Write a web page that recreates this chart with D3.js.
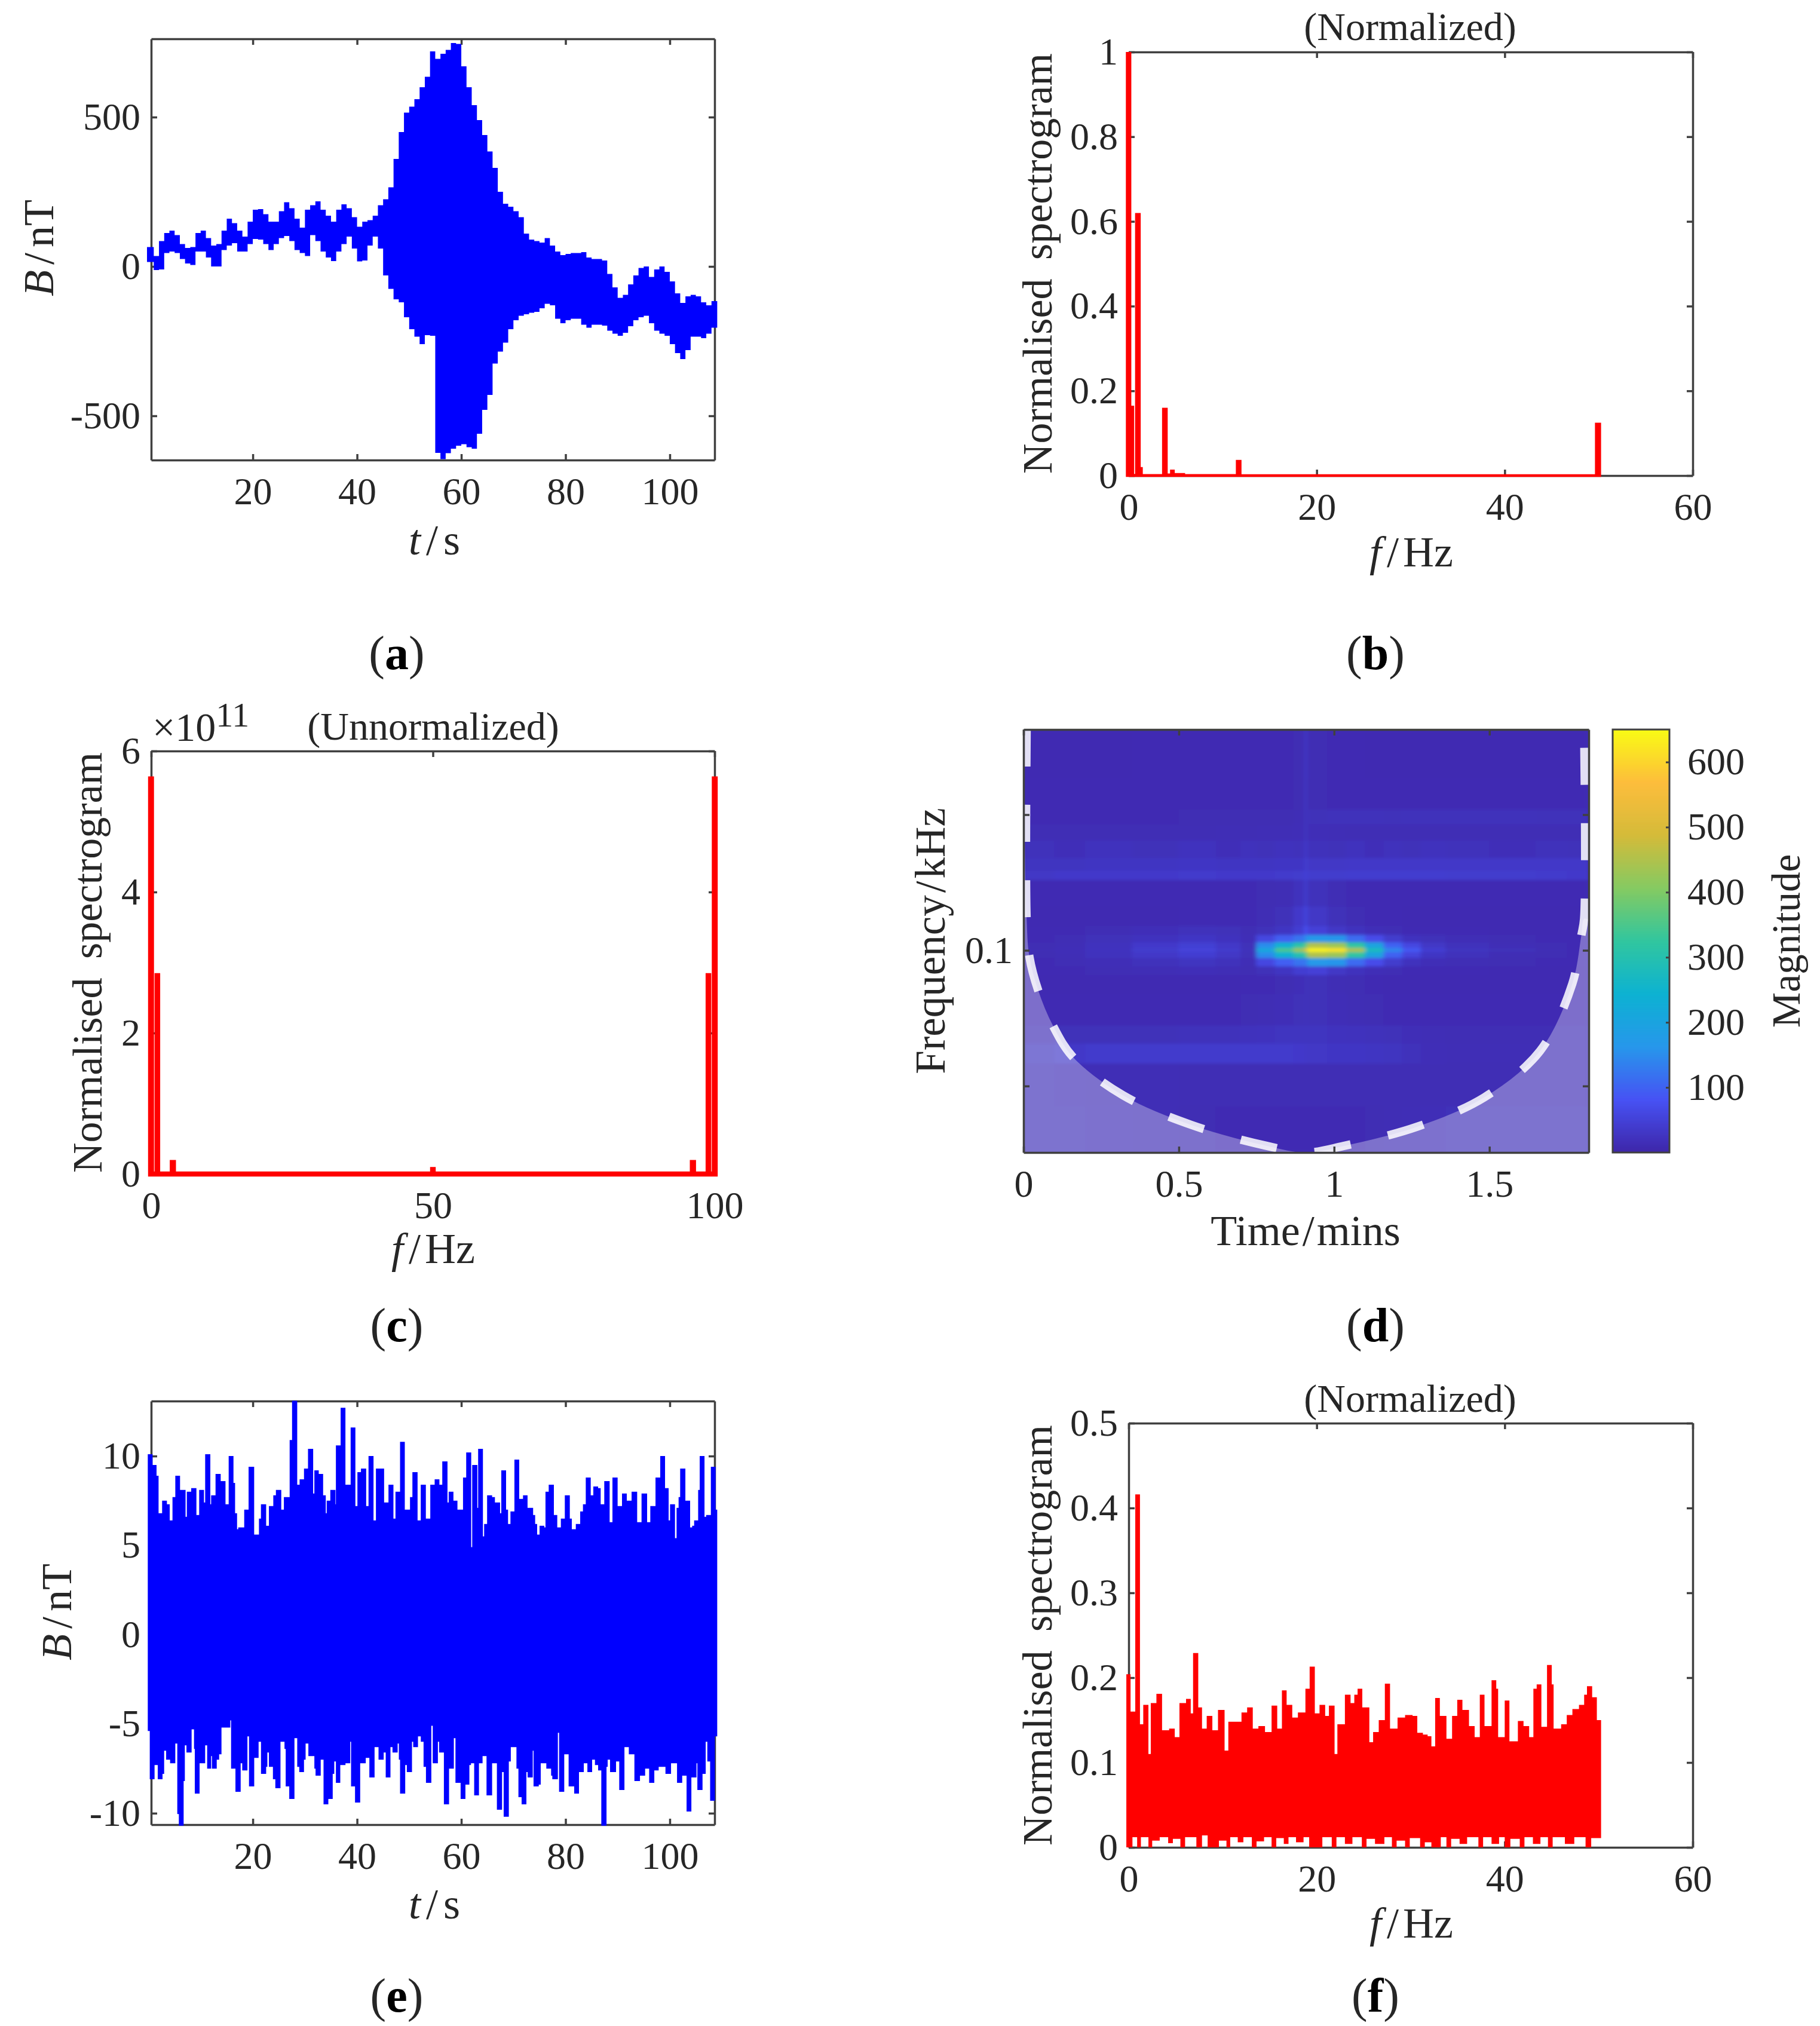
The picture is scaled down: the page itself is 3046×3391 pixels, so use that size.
<!DOCTYPE html>
<html>
<head>
<meta charset="utf-8">
<script src="https://cdn.jsdelivr.net/npm/d3@7"></script>
<style>
  html, body { margin: 0; padding: 0; background: #fff; }
  svg text { font-family: "Liberation Serif", serif; fill: #262626; }
</style>
</head>
<body>
<div id="chart"></div>
<script>
var rawUpperValues = [65,35,85,112,120,105,75,62,65,112,120,95,70,75,120,160,145,120,100,150,190,192,175,150,150,185,215,195,160,130,190,205,218,190,170,150,190,208,195,165,133,150,155,170,205,225,265,360,450,515,535,560,600,635,720,695,712,725,748,745,670,600,540,490,440,385,330,250,210,200,185,165,110,90,85,80,95,70,50,38,42,45,45,48,30,25,25,20,-25,-70,-105,-95,-60,-30,-5,0,-35,-10,0,-18,-50,-90,-122,-100,-95,-100,-120,-130,-116];
var rawLowerValues = [15,-12,-10,45,50,45,25,10,5,50,50,30,0,0,55,70,78,50,50,75,92,90,75,55,75,95,102,85,55,45,35,105,85,50,30,18,50,75,100,60,17,20,70,100,60,-30,-75,-110,-120,-170,-210,-235,-260,-230,-232,-624,-645,-625,-610,-600,-595,-605,-610,-560,-480,-430,-325,-285,-255,-210,-180,-165,-160,-155,-152,-140,-125,-130,-175,-190,-180,-175,-175,-195,-205,-195,-195,-198,-215,-225,-232,-222,-200,-180,-170,-165,-190,-215,-225,-232,-260,-290,-310,-280,-235,-235,-240,-225,-205];

// (b) normalized spectrum, [f in Hz, value], each value holds until the next
var normSpectrum = [[-0.3,1],[0.28,0.165],[0.58,0.004],[0.68,0.62],[1.28,0.02],[1.5,0.0035],[3.55,0.16],[4.15,0.005],[4.4,0.014],[4.9,0.006],[6,0.0035],[11.4,0.037],[12,0.003],[49.6,0.125],[50.25,0.125]];

// (c) unnormalized two-sided spectrum, [f in Hz, value in 1e11]
var twoSidedSpectrum = [[-0.55,5.64],[0.5,0.035],[0.6,2.85],[1.6,0.035],[3.3,0.2],[4.4,0.035],[49.5,0.1],[50.5,0.035],[95.6,0.2],[96.7,0.035],[98.4,2.85],[99.4,0.035],[99.5,5.64],[100.55,5.64]];

// (d) scalogram: cell edges and magnitudes, top row first
var timeEdges = [0,0.1,0.2,0.35,0.5,0.62,0.7,0.75,0.81,0.87,0.905,0.915,0.98,1.04,1.1,1.16,1.22,1.28,1.36,1.5,1.65,1.75,1.82];
var freqEdges = [0.309,0.24,0.205,0.19,0.175,0.16,0.15,0.143,0.125,0.113,0.108,0.104,0.101,0.099,0.096,0.092,0.088,0.08,0.068,0.062,0.056,0.045,0.0356];
var magnitude = [
  [11,11,11,12,12,12,12,12,12,13,30,13,12,12,11,11,11,11,11,11,11,11],
  [12,12,12,12,12,12,12,12,12,13,28,13,12,12,12,12,12,12,12,12,12,12],
  [12,12,12,12,13,13,13,13,13,15,26,18,20,20,20,19,20,20,20,20,19,19],
  [14,14,14,14,14,15,14,15,15,16,26,16,15,14,14,14,14,14,14,14,14,14],
  [20,17,22,18,23,17,21,18,22,20,36,20,18,22,17,21,18,22,20,17,20,19],
  [26,26,28,28,30,28,28,28,30,30,44,32,32,34,34,34,34,34,34,34,34,34],
  [32,36,36,36,38,36,36,36,38,40,50,40,40,42,42,42,42,42,40,40,38,36],
  [12,12,12,12,12,12,12,13,14,22,42,20,14,12,12,12,12,12,12,12,12,12],
  [11,11,11,11,12,12,12,14,18,36,60,32,18,13,12,12,11,11,11,11,11,11],
  [12,12,14,17,20,18,14,18,28,44,80,50,32,22,16,14,12,12,12,11,11,11],
  [12,14,18,24,30,24,16,60,95,120,150,170,160,110,70,40,24,18,15,13,12,12],
  [13,15,22,36,46,34,18,150,245,310,370,450,430,320,200,100,60,32,20,15,13,12],
  [14,16,24,40,52,38,20,215,350,430,510,640,620,450,280,145,90,44,26,18,14,12],
  [13,15,22,34,44,32,18,150,245,300,350,450,430,320,200,100,56,30,20,14,13,12],
  [12,14,16,20,26,20,15,60,95,120,125,170,160,110,70,40,22,16,14,13,12,12],
  [12,12,14,15,17,15,13,18,28,44,44,50,32,22,16,14,12,12,12,11,11,11],
  [11,11,11,11,11,11,12,12,13,16,20,18,14,13,12,11,11,11,11,11,11,11],
  [12,12,12,12,12,12,13,14,16,18,20,18,16,14,13,12,12,12,12,12,12,12],
  [15,18,18,18,20,20,22,24,26,26,26,26,24,22,20,18,16,15,14,14,14,14],
  [26,34,38,38,38,38,38,38,38,36,34,32,30,30,28,26,20,16,15,15,15,15],
  [18,16,15,15,14,14,14,14,14,14,14,14,14,14,14,14,14,14,14,14,14,14],
  [18,18,16,15,13,12,12,12,12,12,12,12,12,12,13,14,15,16,18,18,18,18]
];
var coiTime = [0.01,0.01,0.019,0.047,0.095,0.16,0.32,0.54,0.785,0.91,1.03,1.267,1.484,1.663,1.767,1.796,1.805,1.805];
var coiFreq = [0.309,0.1175,0.0968,0.0816,0.068,0.0579,0.0477,0.041,0.0368,0.0356,0.0368,0.0406,0.0472,0.0598,0.0843,0.1078,0.1175,0.309];
var parula = ['#3e26a8','#4752f4','#2797eb','#0db2d2','#31c69f','#85ca62','#d4bb3a','#fdbd3c','#f9fb15'];

// (e) residual signal: envelope, [t in s, B in nT]
var resUpper = [[-0.15,10.1],[0.77,9.5],[1.53,8.9],[1.92,6.8],[2.6,7.5],[3.52,7.3],[4.06,6.4],[4.59,7.7],[5.13,8.9],[6.04,8.1],[7.1,6.6],[7.34,8],[8.18,8.2],[9.18,6.7],[9.71,8.1],[10.63,7.4],[10.86,10.1],[11.85,7.3],[12,7.8],[12.85,9],[13.84,8.6],[14.76,7.3],[15.37,10],[16.29,8.5],[16.6,6.8],[16.98,5.9],[17.2,6],[18.35,7],[19.19,9.4],[20.26,5.6],[21.18,6.5],[21.56,7.3],[22.56,6.1],[23.09,7.2],[23.93,7.8],[24.43,8.1],[25.46,7],[25.96,7.7],[27.07,10.9],[27.53,13.1],[28.52,8.4],[28.98,8.7],[29.82,9.3],[30.59,10.4],[31.58,7.9],[31.81,9.2],[32.65,9],[33.49,7.8],[34,6.8],[34.18,7.5],[34.87,8.1],[35.86,7.3],[35.94,10.6],[36.85,12.7],[37.77,8.4],[38.77,11.6],[39.68,7.2],[40.07,9.1],[40.75,9.3],[41.75,7.2],[42.2,10],[43.16,6.4],[43.62,9.3],[44.5,9.3],[45.19,7.4],[46.03,8.4],[46.98,6.5],[47.37,8],[48.25,10.8],[49.16,7],[50.16,7.7],[50.62,9.1],[51.61,6.4],[52.22,8.4],[53.2,6.5],[54.05,8.4],[54.89,8.7],[55.8,8.4],[56.35,9.7],[57.35,7.4],[57.58,8],[58.49,7.5],[59.26,7],[60.33,8.8],[60.94,10.2],[61.9,4.9],[62.09,9.5],[63.08,7.1],[63.23,10.4],[64.15,5.5],[64.38,6.2],[64.95,7.8],[65.91,7.7],[66.45,7.4],[67.44,6.8],[67.67,9.2],[68.59,7],[68.97,6.2],[69.43,6.9],[70.19,9.8],[71.11,7.6],[71.84,7.8],[72.71,7.1],[73.78,6.7],[74.17,6.2],[74.55,5.6],[75.01,6.1],[75.93,6],[76.15,8],[76.77,8.4],[77.76,6.7],[78.41,6],[79.1,6.5],[79.86,7.8],[80.82,6.5],[81.2,5.9],[81.97,6.2],[82.81,6.9],[83.34,7.3],[83.88,8.8],[84.83,7.8],[85.33,8.3],[86.25,8.2],[86.74,7.3],[87.43,8.6],[88.46,6.3],[89,8.8],[89.99,7.2],[90.83,7.9],[91.75,7.5],[92.67,8],[93.74,6.3],[94.58,7.9],[95.65,6.3],[96.26,7.2],[97.26,8.8],[98.17,10],[99.09,8.2],[99.78,6.4],[100.05,7.3],[101,5.4],[101.3,7.1],[101.69,7.7],[101.99,9.3],[102.99,7.5],[103.9,6],[104.29,6.1],[104.67,6.4],[105.44,8.1],[105.74,10],[106.66,6.6],[106.97,6.7],[107.88,9.4],[108.8,7],[109.1,7]];
var resLower = [[-0.15,-5.4],[0.23,-8.1],[1.15,-7.3],[1.76,-8.1],[2.68,-7.8],[2.99,-6.5],[3.37,-7],[4.13,-7.2],[5.13,-6.1],[5.51,-10.05],[5.81,-10.7],[6.73,-8.2],[6.96,-6.2],[7.27,-6.6],[8.26,-5.3],[8.72,-6.4],[8.87,-8.9],[9.79,-7.2],[10.86,-6.2],[11.24,-7.5],[12.01,-6.8],[12.16,-7.5],[13.08,-7],[13.54,-6.7],[13.99,-5.2],[15.68,-4.8],[15.83,-7.5],[16.67,-8.8],[17.67,-7.2],[17.97,-7.6],[18.97,-5.7],[19.27,-8.5],[20.27,-6.9],[21.11,-6],[21.57,-7.8],[22.56,-7.4],[22.79,-6.6],[23.09,-7.4],[23.86,-8.1],[24.32,-8.6],[25.31,-6],[26.08,-6.4],[26.31,-8.5],[26.99,-9.2],[27.99,-5.8],[28.52,-7.4],[28.91,-7.7],[29.82,-7],[30.13,-6.1],[30.66,-6.8],[31.81,-7.5],[32.04,-7.9],[33.03,-7],[33.57,-9.5],[34.49,-9.2],[35.33,-7.8],[35.63,-7.1],[35.94,-8.3],[36.78,-7.3],[37.78,-7.2],[38.69,-6],[38.85,-8.5],[39.61,-9.4],[40.6,-7.2],[41.67,-6.9],[42.36,-8],[43.36,-6.3],[44.12,-7],[45.11,-6.6],[45.5,-8],[46.41,-6.3],[46.8,-6.6],[47.79,-6.1],[48.02,-7],[48.25,-8.9],[49.24,-7.3],[49.55,-7.7],[50.54,-6],[50.77,-6.3],[51.69,-5.7],[52.23,-6],[52.76,-7.4],[53.22,-8.3],[54.25,-5.1],[54.52,-7.2],[55.51,-6],[55.74,-6.6],[56.66,-9.5],[57.65,-7.5],[58.57,-5.8],[58.88,-8.3],[59.87,-9.2],[60.79,-8.4],[61.55,-7.3],[61.86,-7.2],[62.47,-9],[63.39,-7.2],[64.08,-6.8],[64.84,-9],[65.91,-7.2],[66.83,-9.8],[67.82,-7.7],[68.13,-10.2],[69.12,-7.1],[69.5,-6.3],[70.58,-7.5],[70.96,-9.1],[71.57,-9.5],[72.49,-7.7],[72.72,-8],[73.71,-6.5],[73.86,-8.5],[74.86,-8.4],[75.24,-7.2],[76.31,-7.5],[77.23,-7.9],[77.46,-8.1],[78.53,-5.5],[78.76,-8.8],[79.75,-6.7],[80.59,-8.5],[81.66,-8.9],[82.58,-7.7],[83.5,-7.2],[84.19,-7.7],[85.1,-7],[85.64,-7.3],[86.25,-7.6],[86.86,-10.7],[87.86,-7.4],[88.08,-7],[88.54,-7.7],[89.69,-7.1],[90.3,-8.7],[91.3,-6.3],[92.14,-6.7],[93.21,-8.2],[94.28,-7.9],[95.27,-7.5],[96.04,-8.3],[97.03,-7.6],[97.87,-7.4],[99.17,-7.8],[100.24,-7.2],[101.39,-8.3],[102.38,-7.9],[103.22,-9.9],[104.14,-8],[105.13,-7.2],[105.29,-8.7],[106.28,-7.8],[106.89,-6],[107.2,-7.1],[107.74,-9.3],[108.65,-5.7],[109.1,-5.7]];

// (f) spectrum of the residual, upper and lower edge, [f in Hz, value]
var resSpecUpper = [[-0.25,0.204],[0.2,0.16],[0.7,0.416],[1.2,0.145],[1.55,0.168],[2.1,0.11],[2.35,0.17],[2.95,0.181],[3.55,0.138],[4.3,0.14],[4.9,0.13],[5.4,0.17],[6.1,0.175],[6.6,0.158],[6.85,0.229],[7.4,0.165],[7.8,0.14],[8.3,0.155],[8.9,0.138],[9.5,0.162],[10.2,0.114],[10.6,0.148],[11.5,0.148],[12,0.159],[12.6,0.165],[13.2,0.14],[13.8,0.143],[14.5,0.136],[15.2,0.167],[15.8,0.14],[16.3,0.185],[16.8,0.168],[17.4,0.153],[18,0.159],[18.8,0.187],[19.25,0.213],[19.8,0.158],[20.3,0.168],[20.9,0.155],[21.3,0.167],[21.9,0.11],[22.2,0.145],[23,0.18],[23.6,0.17],[24,0.18],[24.35,0.187],[24.85,0.165],[25.6,0.124],[26,0.136],[26.6,0.15],[27.25,0.193],[27.8,0.14],[28.6,0.153],[29.4,0.156],[30.2,0.155],[30.7,0.135],[31.3,0.133],[31.8,0.131],[32.2,0.119],[32.6,0.176],[33.1,0.155],[33.8,0.128],[34.4,0.155],[34.95,0.174],[35.5,0.162],[36.2,0.143],[36.8,0.13],[37.35,0.18],[37.85,0.143],[38.6,0.197],[39.1,0.187],[39.3,0.13],[40,0.173],[40.5,0.125],[41.4,0.149],[42,0.143],[42.6,0.13],[43.05,0.187],[43.4,0.192],[43.9,0.142],[44.5,0.215],[45,0.192],[45.2,0.14],[46,0.145],[46.6,0.156],[47.2,0.163],[47.9,0.168],[48.45,0.18],[48.75,0.19],[49.3,0.177],[49.8,0.15],[50.25,0.15]];
var resSpecLower = [[-0.25,0],[0.4,0.012],[0.9,0],[1.3,0.012],[2.1,0],[2.5,0.008],[3.3,0.012],[4.2,0.005],[4.7,0.01],[5.5,0],[6,0.012],[7.2,0],[7.8,0.014],[8.4,0],[9.6,0.008],[10.4,0],[10.8,0.012],[11.6,0.006],[12.2,0.012],[13.1,0],[13.6,0.007],[14.4,0.012],[15.2,0],[15.7,0.011],[16.5,0.004],[17,0.012],[17.8,0.006],[18.6,0.012],[19.2,0],[20.6,0.012],[21.6,0],[22.1,0.012],[23,0.004],[23.8,0.012],[24.8,0],[25.3,0.01],[26.2,0.004],[27.2,0.012],[28,0],[28.5,0.008],[29.4,0],[29.9,0.011],[31,0],[31.5,0.006],[32.2,0],[33.2,0.012],[33.8,0],[34.3,0.01],[35.2,0.004],[36,0.012],[37.2,0],[37.7,0.012],[38.6,0.004],[39.4,0.012],[40,0],[40.6,0.01],[41.6,0],[42.1,0.012],[43,0.004],[43.8,0.012],[44.6,0],[45.1,0.012],[46.4,0.004],[47.4,0.012],[48.6,0],[49.2,0.011],[50.25,0.011]];

var xTicksTime = [20,40,60,80,100];
var yTicksRaw = [-500,0,500];
var yTicksNorm = [0,0.2,0.4,0.6,0.8,1];
var yTicksUnnorm = [0,2,4,6];
var yTicksRes = [-10,-5,0,5,10];
var yTicksResSpec = [0,0.1,0.2,0.3,0.4,0.5];
var xTicksSpec = [0,20,40,60];
var xTicksTwoSided = [0,50,100];
var xTicksMins = [0,0.5,1,1.5];
var yTicksKhz = [0.05,0.1,0.2];
var cbarTicks = [100,200,300,400,500,600];

var FS = 64, LABEL_FS = 70, AXIS_COLOR = '#404040';

var svg = d3.select('#chart').append('svg')
    .attr('width', 3046).attr('height', 3391)
    .attr('viewBox', '0 0 3046 3391');
svg.append('rect').attr('width', 3046).attr('height', 3391).attr('fill', '#fff');

function drawAxes(x, y, xTicks, yTicks, yFormat){
    var x0 = x.range()[0], x1 = x.range()[1], y0 = y.range()[0], y1 = y.range()[1];
    var axes = svg.append('g').attr('class', 'axes');
    function style(g){
        g.selectAll('path').attr('stroke', AXIS_COLOR).attr('stroke-width', 3.5);
        g.selectAll('line').attr('stroke', AXIS_COLOR).attr('stroke-width', 3.5);
        g.selectAll('text').attr('font-size', FS).style('fill', '#262626');
        g.attr('font-family', null).attr('font-size', null);
    }
    axes.append('g').attr('transform', 'translate(0,'+y0+')')
        .call(d3.axisBottom(x).tickValues(xTicks).tickSizeInner(-10).tickSizeOuter(0)
            .tickPadding(29).tickFormat(String)).call(style);
    axes.append('g').attr('transform', 'translate(0,'+y1+')')
        .call(d3.axisTop(x).tickValues(xTicks).tickSizeInner(-10).tickSizeOuter(0)
            .tickFormat('')).call(style);
    axes.append('g').attr('transform', 'translate('+x0+',0)')
        .call(d3.axisLeft(y).tickValues(yTicks).tickSizeInner(-10).tickSizeOuter(0)
            .tickPadding(18).tickFormat(yFormat || String)).call(style);
    axes.append('g').attr('transform', 'translate('+x1+',0)')
        .call(d3.axisRight(y).tickValues(yTicks).tickSizeInner(-10).tickSizeOuter(0)
            .tickFormat('')).call(style);
}

// text made of [string, italic, dx] pieces
function label(parts, cx, cy, rotate, size){
    var t = svg.append('text')
        .attr('text-anchor', 'middle')
        .attr('font-size', size || LABEL_FS)
        .attr('transform', 'translate('+cx+','+cy+')'+(rotate ? 'rotate('+rotate+')' : ''))
        .attr('dy', '0.33em');
    parts.forEach(function(p){
        t.append('tspan').attr('font-style', p[1] ? 'italic' : null).attr('dx', p[2] || null).text(p[0]);
    });
    return t;
}

function panelTag(letter, cx, cy){
    var t = svg.append('text').attr('text-anchor', 'middle').attr('font-size', 80)
        .attr('transform', 'translate('+cx+','+cy+')').attr('dy', '0.33em');
    t.append('tspan').text('(');
    t.append('tspan').attr('font-weight', 'bold').style('fill', '#000').text(letter);
    t.append('tspan').text(')');
}

// step fill between two envelopes that have their own break points
function envelope(upper, lower, x, y, color){
    var hiAt = d3.bisector(function(d){ return d[0]; }).right;
    var ts = Array.from(new Set(upper.concat(lower).map(function(d){ return d[0]; }))).sort(d3.ascending);
    var rows = ts.map(function(t){
        var hi = upper[Math.max(0, hiAt(upper, t)-1)][1];
        var lo = lower[Math.max(0, hiAt(lower, t)-1)][1];
        return {t: t, hi: hi, lo: lo};
    });
    svg.append('path').datum(rows)
        .attr('fill', color)
        .attr('d', d3.area().curve(d3.curveStepAfter)
            .x(function(d){ return x(d.t); })
            .y0(function(d){ return y(d.lo); })
            .y1(function(d){ return y(d.hi); }));
}

function spectrum(data, base, x, y){
    svg.append('path').datum(data)
        .attr('fill', '#ff0000')
        .attr('d', d3.area().curve(d3.curveStepAfter)
            .x(function(d){ return x(d[0]); })
            .y0(y(base))
            .y1(function(d){ return y(d[1]); }));
}

function spectrogramLabel(cx, cy){
    label([['Normalised spectrogram',0]], cx, cy, -90).style('word-spacing', '14px');
}

var timeX = function(){ return d3.scaleLinear().domain([0.5,108.6]).range([253,1196]); };
var specX = function(){ return d3.scaleLinear().domain([0,60]).range([1889,2833]); };

// panel a
var ax = timeX(), ay = d3.scaleLinear().domain([-648,762]).range([770,65]);
drawAxes(ax, ay, xTicksTime, yTicksRaw);
function perSecond(values){
    var pts = values.map(function(v, i){ return [i, v]; });
    pts[0] = [-0.3, values[0]];
    pts.push([109.1, values[values.length-1]]);
    return pts;
}
envelope(perSecond(rawUpperValues), perSecond(rawLowerValues), ax, ay, '#0000ff');
label([['B',1],['/',0,9],['nT',0,9]], 65, 415, -90, 72);
label([['t',1],['/',0,9],['s',0,9]], 727, 904, 0, 72);
panelTag('a', 664, 1094);

// panel b
var bx = specX(), by = d3.scaleLinear().domain([0,1]).range([796,87]);
drawAxes(bx, by, xTicksSpec, yTicksNorm);
spectrum(normSpectrum, -0.003, bx, by);
spectrogramLabel(1737, 441);
label([['f',1],['/',0,9],['Hz',0,7]], 2362, 924, 0, 72);
label([['(Normalized)',0]], 2360, 45, 0, 66);
panelTag('b', 2302, 1094);

// panel c
var cx = d3.scaleLinear().domain([0,100]).range([253,1196]), cy = d3.scaleLinear().domain([0,6]).range([1965,1257]);
drawAxes(cx, cy, xTicksTwoSided, yTicksUnnorm);
spectrum(twoSidedSpectrum, -0.035, cx, cy);
spectrogramLabel(147, 1611);
label([['f',1],['/',0,9],['Hz',0,7]], 725, 2090, 0, 72);
label([['(Unnormalized)',0]], 725, 1216, 0, 66);
var exp = svg.append('text').attr('x', 255).attr('y', 1240).attr('font-size', 68);
exp.append('tspan').text('\u00d710');
exp.append('tspan').attr('dy', -24).attr('font-size', 58).text('11');
panelTag('c', 664, 2219);

// panel d
var dx = d3.scaleLinear().domain([0,1.82]).range([1713,2659]);
var dy = d3.scaleLog().domain([0.0356,0.309]).range([1929,1221]);
var heatColor = d3.scaleSequential(d3.piecewise(d3.interpolateRgb, parula)).domain([0,650]);
var defs = svg.append('defs');
defs.append('clipPath').attr('id', 'heat-clip').append('rect')
    .attr('x', dx(0)).attr('y', dy(0.309))
    .attr('width', dx(1.82)-dx(0)).attr('height', dy(0.0356)-dy(0.309));
var blur = defs.append('filter').attr('id', 'heat-blur').attr('filterUnits', 'userSpaceOnUse')
    .attr('x', 1650).attr('y', 1160).attr('width', 1080).attr('height', 830);
blur.append('feGaussianBlur').attr('stdDeviation', '3.5 2.5');

var heat = svg.append('g').attr('clip-path', 'url(#heat-clip)');
heat.append('rect').attr('x', dx(0)).attr('y', dy(0.309))
    .attr('width', dx(1.82)-dx(0)).attr('height', dy(0.0356)-dy(0.309))
    .attr('fill', heatColor(12));
var cells = [];
magnitude.forEach(function(row, r){
    row.forEach(function(v, c){ cells.push({r: r, c: c, v: v}); });
});
heat.append('g').attr('filter', 'url(#heat-blur)').selectAll('rect').data(cells).enter().append('rect')
    .attr('x', function(d){ return dx(timeEdges[d.c])-0.5; })
    .attr('y', function(d){ return dy(freqEdges[d.r])-0.5; })
    .attr('width', function(d){ return dx(timeEdges[d.c+1])-dx(timeEdges[d.c])+1; })
    .attr('height', function(d){ return dy(freqEdges[d.r+1])-dy(freqEdges[d.r])+1; })
    .attr('fill', function(d){ return heatColor(d.v); });

var coi = coiTime.map(function(t, i){ return [t, coiFreq[i]]; });
var coiCurve = d3.curveCatmullRom.alpha(0.5);
heat.append('path').datum([[0,0.309]].concat(coi.slice(1, -1), [[1.82,0.1175],[1.82,0.309]]))
    .attr('fill', '#fff').attr('fill-opacity', 0.32)
    .attr('d', d3.area().curve(coiCurve)
        .x(function(d){ return dx(d[0]); })
        .y0(dy(0.0356))
        .y1(function(d){ return dy(d[1]); }));
heat.append('path').datum(coi)
    .attr('fill', 'none').attr('stroke', '#fff').attr('stroke-width', 14).attr('stroke-opacity', 0.85)
    .attr('stroke-dasharray', '62 64')
    .attr('d', d3.line().curve(coiCurve)
        .x(function(d){ return dx(d[0]); })
        .y(function(d){ return dy(d[1]); }));

drawAxes(dx, dy, xTicksMins, yTicksKhz, function(d){ return d === 0.1 ? '0.1' : ''; });
label([['Frequency',0],['/',0,4],['kHz',0,4]], 1558, 1575, -90, 71);
label([['Time',0],['/',0,4],['mins',0,4]], 2185, 2060, 0, 72);
panelTag('d', 2302, 2219);

// colour bar of panel d
var barY = d3.scaleLinear().domain([0,650]).range([1929,1221]);
svg.append('g').selectAll('rect').data(d3.range(0,650,2)).enter().append('rect')
    .attr('x', 2699).attr('width', 95)
    .attr('y', function(d){ return barY(d+2)-0.5; })
    .attr('height', function(d){ return barY(d)-barY(d+2)+1; })
    .attr('fill', function(d){ return heatColor(d+1); });
svg.append('rect').attr('x', 2699).attr('y', 1221).attr('width', 95).attr('height', 708)
    .attr('fill', 'none').attr('stroke', AXIS_COLOR).attr('stroke-width', 3);
var barAxis = svg.append('g').attr('transform', 'translate(2794,0)')
    .call(d3.axisRight(barY).tickValues(cbarTicks).tickSizeInner(-6).tickSizeOuter(0).tickPadding(30).tickFormat(String));
barAxis.select('path').remove();
barAxis.selectAll('line').attr('stroke', AXIS_COLOR).attr('stroke-width', 3);
barAxis.selectAll('text').attr('font-size', FS);
barAxis.attr('font-family', null).attr('font-size', null);
label([['Magnitude',0]], 2990, 1575, -90, 67);

// panel e
var ex = timeX(), ey = d3.scaleLinear().domain([-10.64,13.08]).range([3054,2345]);
drawAxes(ex, ey, xTicksTime, yTicksRes);
envelope(resUpper, resLower, ex, ey, '#0000ff');
label([['B',1],['/',0,9],['nT',0,9]], 95, 2698, -90, 72);
label([['t',1],['/',0,9],['s',0,9]], 727, 3187, 0, 72);
panelTag('e', 664, 3341);

// panel f
var fx = specX(), fy = d3.scaleLinear().domain([0,0.5]).range([3092,2382]);
drawAxes(fx, fy, xTicksSpec, yTicksResSpec);
envelope(resSpecUpper, resSpecLower, fx, fy, '#ff0000');
spectrogramLabel(1737, 2737);
label([['f',1],['/',0,9],['Hz',0,7]], 2362, 3219, 0, 72);
label([['(Normalized)',0]], 2360, 2341, 0, 66);
panelTag('f', 2302, 3341);
</script>
</body>
</html>
